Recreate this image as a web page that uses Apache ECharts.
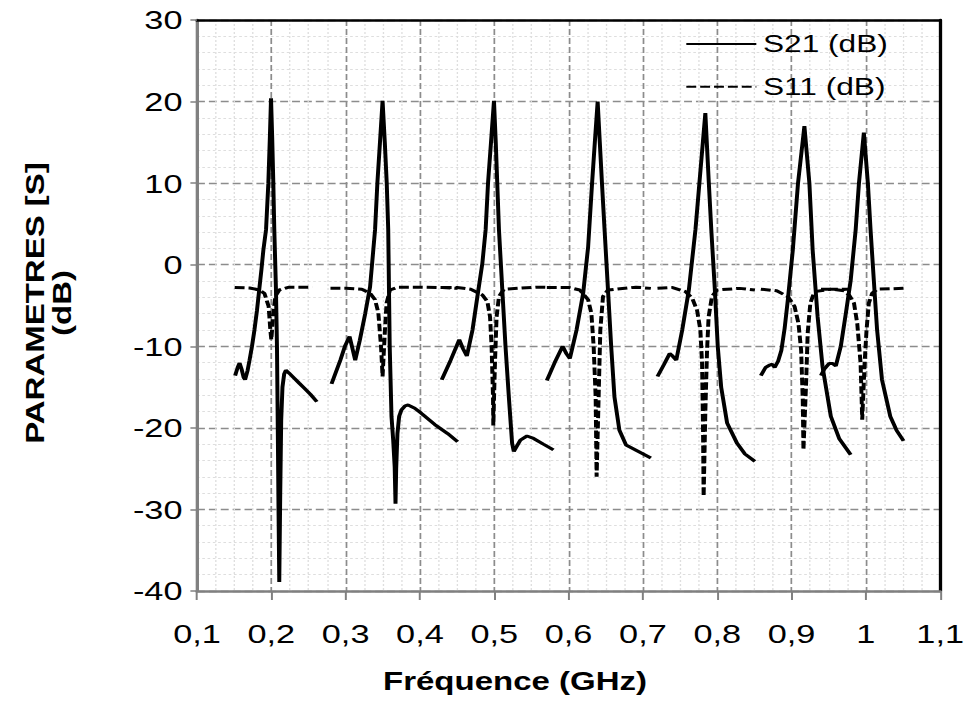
<!DOCTYPE html>
<html><head><meta charset="utf-8">
<script src="https://cdn.jsdelivr.net/npm/echarts@6/dist/echarts.min.js"></script>
<style>
html,body{margin:0;padding:0;overflow:hidden;background:#fff;width:968px;height:718px}
#wrap{width:968px;height:718px;overflow:hidden;position:relative}
#chart{width:733.33px;height:718px;transform:scaleX(1.32);transform-origin:0 0;position:absolute;left:0;top:0}
</style>
</head><body><div id="wrap"><div id="chart"></div></div>
<script>
const STRETCH = 1.32;
const xTickValues = [0.1,0.2,0.3,0.4,0.5,0.6,0.7,0.8,0.9,1.0,1.1];
const xTickLabels = ['0,1','0,2','0,3','0,4','0,5','0,6','0,7','0,8','0,9','1','1,1'];
const seriesNames = ['S21 (dB)','S11 (dB)'];
const xTitle = 'Fréquence (GHz)';
const yTitle = 'PARAMETRES [S]\n(dB)';

const s21Seg1 = [[0.1513,-13.6],[0.1547,-12.6],[0.1573,-12.05],[0.1600,-12.8],[0.1627,-13.8],[0.1647,-14.1],[0.1680,-13.0],[0.1707,-11.7],[0.1740,-10.0],[0.1773,-8.0],[0.1807,-5.6],[0.1840,-2.85],[0.1867,-0.6],[0.1893,1.8],[0.1929,4.3],[0.1960,10.0],[0.1980,15.5],[0.1996,20.4],[0.2012,15.5],[0.2027,10.0],[0.2040,4.3],[0.2062,-2.9],[0.2076,-10.0],[0.2087,-20.0],[0.2097,-30.0],[0.2107,-38.9],[0.2120,-28.0],[0.2133,-19.0],[0.2150,-15.0],[0.2173,-13.4],[0.2196,-12.95],[0.2240,-13.3],[0.2307,-13.9],[0.2373,-14.5],[0.2440,-15.1],[0.2527,-15.9],[0.2613,-16.8]];
const s21Seg2 = [[0.2810,-14.6],[0.2929,-11.7],[0.2990,-10.0],[0.3053,-8.8],[0.3090,-10.2],[0.3129,-11.7],[0.3190,-9.3],[0.3263,-6.0],[0.3329,-2.7],[0.3396,4.3],[0.3427,10.0],[0.3462,15.0],[0.3497,20.1],[0.3527,15.0],[0.3553,10.0],[0.3573,4.3],[0.3583,-2.85],[0.3593,-10.0],[0.3617,-18.6],[0.3640,-21.5],[0.3660,-24.8],[0.3671,-29.3],[0.3680,-25.0],[0.3697,-20.7],[0.3720,-18.6],[0.3751,-17.8],[0.3800,-17.3],[0.3840,-17.2],[0.3930,-17.6],[0.4017,-18.2],[0.4200,-19.6],[0.4373,-20.7],[0.4507,-21.7]];
const s21Seg3 = [[0.4293,-14.1],[0.4413,-11.7],[0.4529,-9.2],[0.4580,-10.3],[0.4631,-11.2],[0.4707,-8.0],[0.4773,-3.9],[0.4840,0.2],[0.4884,4.3],[0.4916,10.0],[0.4956,15.0],[0.4996,20.1],[0.5020,15.0],[0.5040,10.0],[0.5063,4.3],[0.5107,-2.9],[0.5151,-10.0],[0.5196,-16.2],[0.5240,-21.9],[0.5263,-22.9],[0.5300,-22.3],[0.5351,-21.5],[0.5440,-21.0],[0.5529,-21.3],[0.5660,-22.0],[0.5796,-22.7]];
const s21Seg4 = [[0.5707,-14.2],[0.5813,-12.0],[0.5920,-10.0],[0.5970,-10.9],[0.6017,-11.5],[0.6107,-8.0],[0.6196,-3.5],[0.6263,2.2],[0.6316,10.0],[0.6353,15.0],[0.6391,20.0],[0.6420,15.0],[0.6449,10.0],[0.6484,4.3],[0.6529,-2.9],[0.6573,-10.0],[0.6617,-16.2],[0.6684,-20.3],[0.6773,-22.1],[0.6940,-22.9],[0.7107,-23.7]];
const s21Seg5 = [[0.7196,-13.7],[0.7280,-12.3],[0.7360,-10.9],[0.7400,-11.2],[0.7449,-11.7],[0.7529,-8.0],[0.7618,-3.1],[0.7707,4.3],[0.7760,10.0],[0.7840,18.6],[0.7887,10.0],[0.7920,4.3],[0.7967,-2.9],[0.8007,-10.0],[0.8053,-15.0],[0.8133,-19.4],[0.8267,-21.9],[0.8373,-23.2],[0.8507,-24.1]];
const s21Seg6 = [[0.8587,-13.6],[0.8650,-12.6],[0.8707,-12.3],[0.8740,-12.2],[0.8773,-12.6],[0.8820,-11.8],[0.8863,-10.5],[0.8907,-7.8],[0.8950,-4.3],[0.9017,1.8],[0.9087,10.0],[0.9173,17.0],[0.9240,10.0],[0.9284,1.8],[0.9351,-6.4],[0.9417,-12.5],[0.9529,-18.6],[0.9640,-21.3],[0.9796,-23.3]];
const s21Seg7 = [[0.9396,-13.6],[0.9440,-12.8],[0.9507,-12.1],[0.9550,-12.1],[0.9596,-12.4],[0.9663,-10.0],[0.9730,-6.0],[0.9796,-1.9],[0.9863,4.3],[0.9907,10.0],[0.9973,16.2],[1.0027,10.0],[1.0063,4.3],[1.0107,-1.9],[1.0151,-8.0],[1.0217,-14.1],[1.0329,-18.6],[1.0413,-20.3],[1.0507,-21.6]];

const s11Seg1 = [[0.1507,-2.8],[0.1707,-2.85],[0.1840,-3.1],[0.1907,-3.5],[0.1964,-5.1],[0.1987,-8.0],[0.2000,-9.2],[0.2027,-6.0],[0.2053,-3.9],[0.2107,-3.1],[0.2240,-2.75],[0.2551,-2.75]];
const s11Seg2 = [[0.2796,-2.9],[0.3000,-2.9],[0.3217,-3.0],[0.3329,-3.5],[0.3396,-4.3],[0.3440,-5.9],[0.3476,-10.0],[0.3497,-13.7],[0.3529,-8.0],[0.3551,-4.7],[0.3596,-3.1],[0.3707,-2.75],[0.4000,-2.75],[0.4300,-2.8],[0.4507,-2.9]];
const s11Seg3 = [[0.4293,-2.8],[0.4500,-2.8],[0.4684,-3.0],[0.4840,-3.7],[0.4907,-4.5],[0.4943,-6.4],[0.4964,-10.0],[0.4983,-16.2],[0.4987,-19.7],[0.5009,-12.1],[0.5031,-6.4],[0.5063,-3.9],[0.5129,-3.0],[0.5573,-2.75],[0.5796,-2.8]];
const s11Seg4 = [[0.5707,-2.8],[0.6000,-2.8],[0.6151,-3.1],[0.6263,-4.3],[0.6307,-6.0],[0.6337,-10.0],[0.6364,-16.2],[0.6377,-26.0],[0.6404,-16.2],[0.6427,-8.0],[0.6463,-3.9],[0.6529,-3.1],[0.6907,-2.75],[0.7107,-2.9]];
const s11Seg5 = [[0.7196,-2.9],[0.7400,-2.8],[0.7573,-3.3],[0.7663,-4.1],[0.7729,-5.6],[0.7773,-8.0],[0.7796,-12.1],[0.7809,-20.3],[0.7817,-28.4],[0.7840,-18.0],[0.7863,-10.5],[0.7884,-6.4],[0.7929,-3.9],[0.7996,-3.1],[0.8300,-2.9],[0.8507,-3.1]];
const s11Seg6 = [[0.8587,-3.0],[0.8800,-3.2],[0.8950,-3.9],[0.9040,-5.1],[0.9093,-7.2],[0.9129,-10.5],[0.9151,-16.6],[0.9160,-22.7],[0.9196,-14.5],[0.9217,-8.4],[0.9253,-4.7],[0.9307,-3.3],[0.9529,-3.0],[0.9796,-3.0]];
const s11Seg7 = [[0.9396,-3.0],[0.9560,-3.0],[0.9707,-3.2],[0.9773,-3.7],[0.9840,-4.7],[0.9884,-7.2],[0.9929,-12.1],[0.9951,-19.0],[0.9983,-12.1],[1.0009,-8.0],[1.0040,-4.7],[1.0084,-3.5],[1.0151,-3.0],[1.0507,-2.9]];

const s21Segments = [s21Seg1,s21Seg2,s21Seg3,s21Seg4,s21Seg5,s21Seg6,s21Seg7];
const s11Segments = [s11Seg1,s11Seg2,s11Seg3,s11Seg4,s11Seg5,s11Seg6,s11Seg7];

const FONT = '"Liberation Sans", Arial, sans-serif';
const W = 968 / STRETCH;
const chart = echarts.init(document.getElementById('chart'), null, {renderer:'svg', width: W, height: 718});

function px(v){ return v / STRETCH; }

const series = [];
s21Segments.forEach(seg => series.push({
  type:'line', name: seriesNames[0], data: seg, symbol:'none', smooth:false,
  lineStyle:{color:'#000', width:3, type:'solid'}, itemStyle:{color:'#000'},
  emphasis:{disabled:true}, animation:false, z:3
}));
s11Segments.forEach(seg => series.push({
  type:'line', name: seriesNames[1], data: seg, symbol:'none', smooth:false,
  lineStyle:{color:'#000', width:3, type:[7.5,3]}, itemStyle:{color:'#000'},
  emphasis:{disabled:true}, animation:false, z:3
}));

const option = {
  animation:false,
  backgroundColor:'#fff',
  textStyle:{fontFamily:FONT},
  grid:{left:px(197), right:px(968-947), top:20, bottom:718-591, containLabel:false},
  legend:{
    data: seriesNames, orient:'vertical', left:px(685), top:32, padding:0,
    itemWidth:px(70), itemHeight:24, itemGap:18.7,
    itemStyle:{opacity:0, color:'rgba(0,0,0,0)', borderWidth:0},
    textStyle:{fontSize:24, color:'#000', fontFamily:FONT, lineHeight:24},
    selectedMode:false
  },
  graphic:[
    {type:'text', x:px(515), y:681, z:10,
     style:{text:xTitle, font:'bold 25px "Liberation Sans", Arial, sans-serif', fill:'#000', align:'center', verticalAlign:'middle'}},
    {type:'text', x:px(48.5), y:303, rotation:Math.PI/2, scaleX:STRETCH, scaleY:1/STRETCH, z:10,
     style:{text:yTitle, font:'bold 25px "Liberation Sans", Arial, sans-serif', fill:'#000', align:'center', verticalAlign:'middle', lineHeight:27}}
  ],
  xAxis:[{
    type:'value', min:0.1, max:1.1, interval:0.1,
    axisLine:{show:true, onZero:false, lineStyle:{color:'#808080', width:2.5}},
    axisTick:{show:true, length:9, lineStyle:{color:'#808080', width:1.5}},
    axisLabel:{margin:30, fontSize:26, color:'#000', fontFamily:FONT,
      formatter:function(v){ const i = xTickValues.findIndex(t => Math.abs(t - v) < 1e-6); return i >= 0 ? xTickLabels[i] : ''; }},
    splitLine:{show:true, lineStyle:{color:'#8c8c8c', width:1.3, type:[6,3]}},
    minorTick:{show:false, splitNumber:4},
    minorSplitLine:{show:true, lineStyle:{color:'#dedede', width:1, type:[2,2]}}
  },{
    type:'value', position:'top', min:0.1, max:1.1, interval:0.1,
    axisLine:{show:true, onZero:false, lineStyle:{color:'#000', width:2.5}},
    axisTick:{show:false}, axisLabel:{show:false}, splitLine:{show:false}
  }],
  yAxis:[{
    type:'value', min:-40, max:30, interval:10,
    axisLine:{show:true, onZero:false, lineStyle:{color:'#808080', width:2.5}},
    axisTick:{show:true, length:5, lineStyle:{color:'#808080', width:1.5}},
    axisLabel:{margin:11, fontSize:26, color:'#000', fontFamily:FONT},
    splitLine:{show:true, lineStyle:{color:'#8c8c8c', width:1.3, type:[6,3]}},
    minorTick:{show:false, splitNumber:5},
    minorSplitLine:{show:true, lineStyle:{color:'#dedede', width:1, type:[2,2]}}
  },{
    type:'value', position:'right', min:-40, max:30, interval:10,
    axisLine:{show:true, onZero:false, lineStyle:{color:'#000', width:2.5}},
    axisTick:{show:false}, axisLabel:{show:false}, splitLine:{show:false}
  }],
  series: series
};
chart.setOption(option);
</script>
</body></html>
